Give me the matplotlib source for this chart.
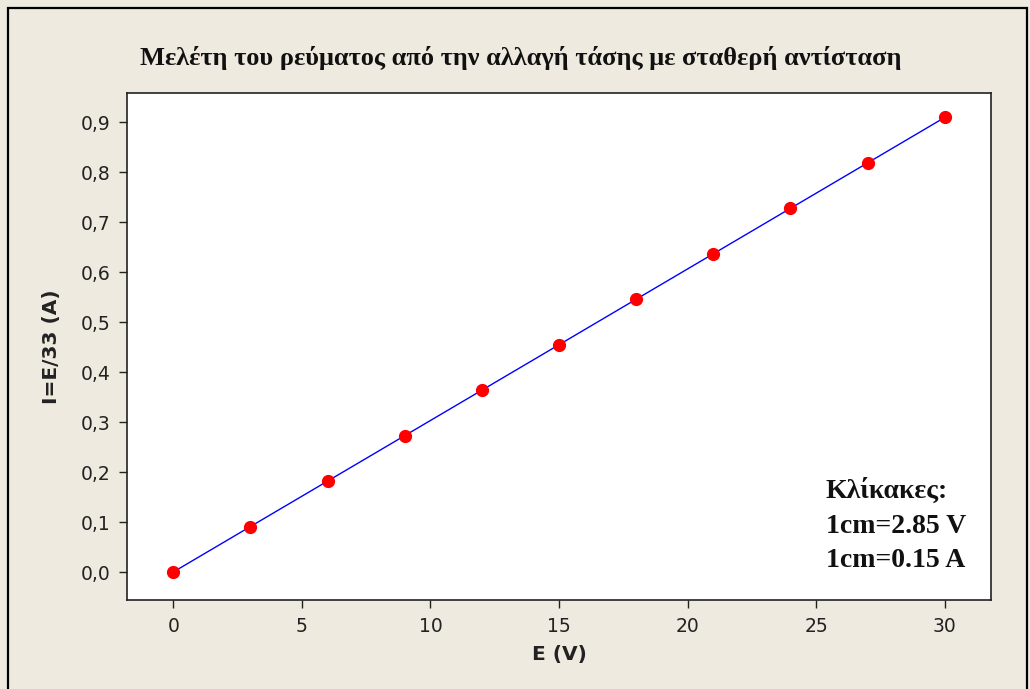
import matplotlib
matplotlib.use("Agg")
import matplotlib.pyplot as plt
from matplotlib.patches import Rectangle
from matplotlib.ticker import FuncFormatter

# Data
voltage = [0, 3, 6, 9, 12, 15, 18, 21, 24, 27, 30]
current = [0.0, 0.0909, 0.1818, 0.2727, 0.3636, 0.4545, 0.5455, 0.6364, 0.7273, 0.8182, 0.9091]
x_ticks = [0, 5, 10, 15, 20, 25, 30]
y_ticks = [0.0, 0.1, 0.2, 0.3, 0.4, 0.5, 0.6, 0.7, 0.8, 0.9]
title = "Μελέτη του ρεύματος από την αλλαγή τάσης με σταθερή αντίσταση"
xlabel = "E (V)"
ylabel = "I=E/33 (A)"
note = "Κλίκακες:\n1cm=2.85 V\n1cm=0.15 A"

W, H = 1030, 689
bg = "#EEEAE0"
fig = plt.figure(figsize=(W / 100, H / 100), dpi=100, facecolor=bg)

# outer frame
fig.patches.append(Rectangle((8 / W, -0.01), (1027 - 8) / W, 1 - 8 / H + 0.01,
                             transform=fig.transFigure, fill=False,
                             edgecolor="black", linewidth=1.6))

ax = fig.add_axes([127 / W, 1 - 600 / H, (991 - 127) / W, (600 - 93) / H])
ax.set_facecolor("white")
ax.plot(voltage, current, color="#0000FF", linewidth=1.0, zorder=2)
ax.plot(voltage, current, linestyle="none", marker="o", markersize=8.5,
        color="#FF0000", zorder=3)

ax.set_xlim(-1.8, 31.8)
ax.set_ylim(-0.056, 0.958)
ax.set_xticks(x_ticks)
ax.set_yticks(y_ticks)
ax.yaxis.set_major_formatter(FuncFormatter(lambda v, p: f"{v:.1f}".replace(".", ",")))
ax.tick_params(direction="out", length=6, width=1.0, labelsize=13.5,
               labelcolor="#222222", color="#222222", pad=6)
for s in ax.spines.values():
    s.set_linewidth(1.2)
    s.set_color("#222222")

ax.set_xlabel(xlabel, fontsize=14.5, fontweight="bold", color="#222222", labelpad=7)
ax.set_ylabel(ylabel, fontsize=14.5, fontweight="bold", color="#222222", labelpad=14)

fig.text(521 / W, 1 - 58 / H, title,
         ha="center", va="center", fontsize=19, fontweight="bold",
         family="Liberation Serif", color="#111111")

ax.text(826 / W, 1 - 478 / H, note, transform=fig.transFigure, ha="left", va="top",
        fontsize=20, fontweight="bold", family="Liberation Serif", color="#111111",
        linespacing=1.5)

fig.savefig("out.png", dpi=100, facecolor=bg)
